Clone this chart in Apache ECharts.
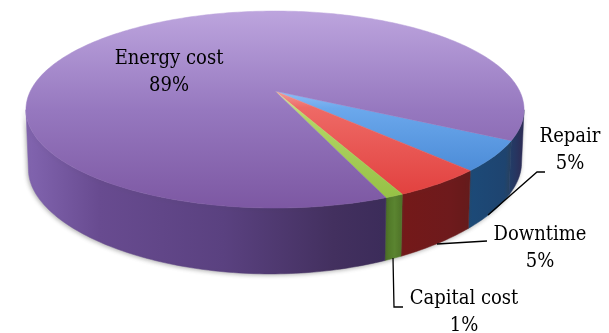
<!DOCTYPE html>
<html><head><meta charset="utf-8">
<style>html,body{margin:0;padding:0;background:#fff}#c{width:609px;height:333px}</style>
<script src="https://cdn.jsdelivr.net/npm/echarts@6/dist/echarts.min.js"></script>
</head><body><div id="c"></div>
<script>
const categories = ['Repair', 'Downtime', 'Capital cost', 'Energy cost'];
const shareValues = [5, 5, 1, 89];
const startDeg = 28.4;

// tilted-disc projection
const CX = 275, Yc = 91, A = 77.9, C = -0.188, D = 244.6;
function project(deg) {
  const t = deg * Math.PI / 180, u = Math.cos(t), v = Math.sin(t), w = 1 + C * v;
  return [CX + D * u / w, (A * v + Yc) / w];
}
function dropped(deg) {
  const p = project(deg);
  const dx = p[0] - 250;
  const h = 66 - (dx > 0 ? 1.7e-4 : 1.2e-4) * dx * dx;
  return [CX + (p[0] - CX) * 0.99, p[1] + h];
}
function gradient(dir, a, b, stops) {
  const g = { type: 'linear', global: true, x: 0, y: 0, x2: 0, y2: 0,
    colorStops: stops.map(s => ({ offset: s[0], color: s[1] })) };
  if (dir === 'x') { g.x = a; g.x2 = b; } else { g.y = a; g.y2 = b; }
  return g;
}
const topFills = [
  gradient('y', 92, 175, [[0, '#8fbdf5'], [0.2, '#6ba8ec'], [1, '#4a8ad6']]),
  gradient('y', 92, 195, [[0, '#f09a98'], [0.15, '#ee6a66'], [1, '#e2413f']]),
  gradient('y', 92, 197, [[0, '#d5e3a0'], [0.25, '#b2d565'], [1, '#96c146']]),
  gradient('y', 10, 210, [[0, '#bda5de'], [0.5, '#9678bf'], [1, '#7c57a2']])
];
const sideFills = [
  gradient('x', 468, 522, [[0, '#1c4a78'], [1, '#1f416c']]),
  gradient('x', 403, 470, [[0, '#741919'], [0.7, '#6e1a1c'], [1, '#651a1a']]),
  gradient('x', 386, 403, [[0, '#4e7526'], [0.5, '#5a8430'], [1, '#4f7426']]),
  gradient('x', 25, 522, [[0, '#8265b0'], [0.15, '#684b90'], [0.4, '#5a4180'], [0.62, '#43305f'], [0.72, '#3c2c5a'], [0.97, '#1f416c'], [1, '#2c2d58']])
];
function sliceRange(i) {
  const total = shareValues.reduce((s, v) => s + v, 0);
  let acc = 0;
  for (let k = 0; k < i; k++) acc += shareValues[k];
  return [startDeg + acc / total * 360, startDeg + (acc + shareValues[i]) / total * 360];
}
function arc(a, b) {
  const pts = [], n = Math.max(2, Math.ceil(Math.abs(b - a)));
  for (let k = 0; k <= n; k++) pts.push(a + (b - a) * k / n);
  return pts;
}
function renderSide(params) {
  const r = sliceRange(params.dataIndex), children = [];
  [[r[0], r[1]], [r[0] - 360, r[1] - 360]].forEach(w => {
    const a = Math.max(w[0], 11), b = Math.min(w[1], 169);
    if (b <= a) return;
    const deg = arc(a, b);
    children.push({ type: 'polygon',
      shape: { points: deg.map(project).concat(deg.slice().reverse().map(dropped)) },
      style: { fill: sideFills[params.dataIndex], stroke: sideFills[params.dataIndex], lineWidth: 0.5,
        shadowBlur: 4, shadowColor: 'rgba(60,60,60,0.4)', shadowOffsetX: -1, shadowOffsetY: 1 } });
  });
  return { type: 'group', children };
}
function renderTop(params) {
  const r = sliceRange(params.dataIndex);
  const pts = [[CX, Yc]].concat(arc(r[0], r[1]).map(project));
  const f = topFills[params.dataIndex];
  return { type: 'polygon', shape: { points: pts }, style: { fill: f, stroke: f, lineWidth: 0.5 } };
}
const seriesData = categories.map((n, i) => ({ name: n, value: shareValues[i] }));

const font = '"DejaVu Serif Condensed", "Liberation Serif", serif';
const labelSpots = [[570, 150], [540, 248], [464, 312], [169, 72]];
const leaders = [
  [[545, 172], [537, 172], [488, 215]],
  [[487, 241], [437, 244]],
  [[403, 307], [394, 307], [393, 258]]
];
const graphic = [];
leaders.forEach(p => graphic.push({ type: 'polyline', z: 20, shape: { points: p },
  style: { stroke: '#000', lineWidth: 1.3, fill: null } }));
categories.forEach((n, i) => graphic.push({ type: 'text', z: 21, x: labelSpots[i][0], y: labelSpots[i][1],
  style: { text: n + '\n' + shareValues[i] + '%', fill: '#000', font: '20px ' + font,
    lineHeight: 27, align: 'center', verticalAlign: 'middle' } }));

const chart = echarts.init(document.getElementById('c'), null, { renderer: 'canvas' });
chart.setOption({
  animation: false,
  backgroundColor: '#fff',
  graphic,
  series: [
    { type: 'custom', coordinateSystem: 'none', z: 1, silent: true, renderItem: renderSide, data: seriesData },
    { type: 'custom', coordinateSystem: 'none', z: 2, silent: true, renderItem: renderTop, data: seriesData }
  ]
});
</script></body></html>
